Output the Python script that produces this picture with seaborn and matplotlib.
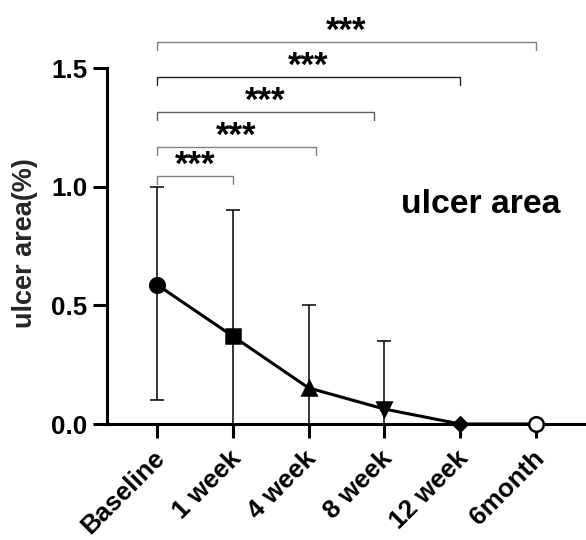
import numpy as np
import pandas as pd
import matplotlib
matplotlib.use("Agg")
import matplotlib.pyplot as plt
import matplotlib.transforms as mtransforms
import seaborn as sns

# --- data ---
categories = ["Baseline", "1 week", "4 week", "8 week", "12 week", "6month"]
mean_area = [0.587, 0.37, 0.152, 0.063, 0.0, 0.0]
bar_low = [0.10, 0.0, 0.0, 0.0, 0.0, 0.0]
bar_high = [1.0, 0.90, 0.50, 0.35, 0.0, 0.0]
point_markers = ["o", "s", "^", "v", "D", "o"]
point_filled = [True, True, True, True, True, False]

# significance brackets, all from Baseline
sig_end = [1, 2.1, 2.86, 4, 5]
sig_y = [1.045, 1.168, 1.315, 1.462, 1.61]
sig_text = ["***", "***", "***", "***", "***"]
sig_color = ["#808080", "#808080", "#606060", "#222222", "#808080"]

sns.set_theme(style="ticks")
plt.rcParams["font.family"] = ["Liberation Sans", "Noto Sans CJK SC", "DejaVu Sans"]
plt.rcParams["font.weight"] = "bold"

fig = plt.figure(figsize=(5.86, 5.40), dpi=100)
ax = fig.add_axes([107 / 586, 116 / 540, 479 / 586, 424 / 540])

x = np.arange(len(categories))
df = pd.DataFrame({"x": x, "area": mean_area})

# error bars
m = np.array(mean_area)
yerr = [m - np.array(bar_low), np.array(bar_high) - m]
ax.errorbar(x, m, yerr=yerr, fmt="none", ecolor="black", elinewidth=1.1,
            capsize=5, capthick=1.1, zorder=2)

# connecting line
sns.lineplot(data=df, x="x", y="area", color="black", linewidth=2.2, ax=ax, zorder=3)

# markers, one shape per time point
for xi, yi, mk, f in zip(x, mean_area, point_markers, point_filled):
    ax.plot(xi, yi, marker=mk, markersize=10.5 if mk != "D" else 7.5,
            markerfacecolor="black" if f else "white", markeredgecolor="black",
            markeredgewidth=1.8, clip_on=False, zorder=4)

# brackets + stars
drop = 8 / 237.3
for end, yb, txt, c in zip(sig_end, sig_y, sig_text, sig_color):
    ax.plot([0, 0, end, end], [yb - drop, yb, yb, yb - drop], color=c,
            linewidth=1.0, clip_on=False, zorder=1)
    ax.text(end / 2, yb + 0.003, txt, ha="center", va="baseline",
            fontsize=25, fontweight="bold", color="black")

ax.text(4.27, 0.925, "ulcer area", ha="center", va="center",
        fontsize=24.3, fontweight="bold", color="black")

# axes styling
ax.set_xlim(-0.66, 5.66)
ax.set_ylim(0, 424 / 237.3)
ax.set_yticks([0, 0.5, 1.0, 1.5])
ax.set_yticklabels(["0.0", "0.5", "1.0", "1.5"])
ax.set_xticks(x)
ax.set_xticklabels(categories, rotation=45, ha="right", va="center",
                   rotation_mode="anchor")
ax.set_xlabel("")
ax.set_ylabel("")
for s in ["top", "right"]:
    ax.spines[s].set_visible(False)
ax.spines["left"].set_bounds(0, 1.5)
for s in ["left", "bottom"]:
    ax.spines[s].set_linewidth(2.2)
    ax.spines[s].set_color("black")
ax.tick_params(axis="both", width=2.2, length=10, labelsize=18.7, colors="black")
ax.tick_params(axis="x", pad=12)
ax.tick_params(axis="y", pad=4)
shift = mtransforms.ScaledTranslation(3 / 72, 0, fig.dpi_scale_trans)
for lab in ax.get_xticklabels():
    lab.set_transform(lab.get_transform() + shift)
for lab in ax.get_xticklabels() + ax.get_yticklabels():
    lab.set_fontweight("bold")

fig.text(25 / 586, 1 - 243 / 540, "ulcer area(%)", rotation=90,
         ha="center", va="center", fontsize=19.5, fontweight="bold")

fig.savefig("out.png", dpi=100)
